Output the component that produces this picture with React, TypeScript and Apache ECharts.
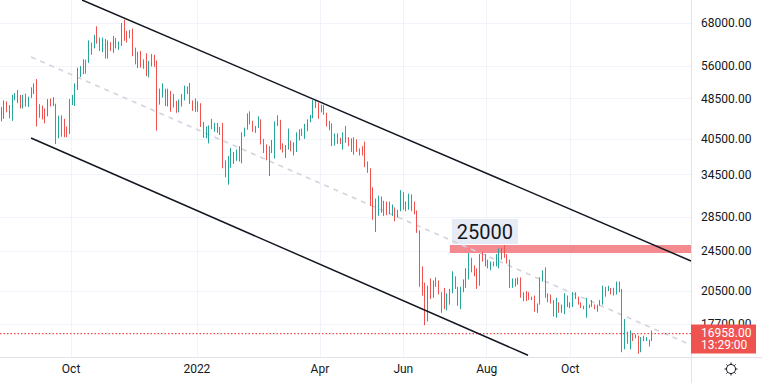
import React, { useEffect, useRef } from 'react';
import * as echarts from 'echarts';

const DAY = 86400000;
// 2-day candles, BTC/USD
const candleStart = Date.UTC(2021, 7, 9);
const candleStepDays = 2;

const opens = [
  43800,45600,44400,47100,46000,44800,49300,49300,47700,46900,
  48900,46900,48800,50000,51800,46800,46400,45200,44900,48200,
  47300,47300,40700,44900,42700,42200,41500,48100,48200,51500,
  53800,55000,57500,57400,61700,61500,64300,62200,61300,63200,
  58500,62300,61300,63200,61400,61500,67500,64900,64200,65500,
  60100,56900,59700,56300,57200,53600,57300,57000,56600,49200,
  50600,50600,47100,50100,48400,47700,46900,46900,48600,50400,
  50600,47500,47100,47700,46500,43500,41600,42000,42800,42600,
  43200,42300,41700,36500,36300,36900,37100,37900,38500,36900,
  41600,42400,44100,43600,42200,42600,43900,40000,38400,38300,
  38300,39100,43200,44000,39100,38400,38700,39400,38800,39700,
  41100,41800,41300,42400,44000,44500,47100,47100,46300,46400,
  45500,43400,42800,39500,41100,40500,39700,41500,40500,39500,
  40400,39200,38600,38500,37700,36500,35500,30100,29000,29300,
  31300,30400,30300,29400,29100,29500,28600,29400,31800,30400,
  29800,31400,30200,29100,26600,22100,20400,19000,20600,20000,
  21200,21000,20300,19800,19300,20200,20500,21600,20800,19300,
  20600,21200,22400,23200,22700,22600,21000,23800,23600,23300,
  22800,23300,23200,23200,24000,24400,24100,23300,20800,21500,
  21500,21600,20000,20300,20000,19900,20000,18800,19300,21700,
  22400,20200,19800,19400,18900,19400,18900,19200,19400,19400,
  19100,20300,19900,19400,19100,19200,19200,19300,19300,19000,
  19200,19300,20800,20600,20600,20500,20200,21300,20600,15900,
  17100,16300,16900,16700,16700,15800,16600,16500,16500,16400,
];
const highs = [
  46700,46700,48100,47900,47100,49300,49700,50400,49300,49300,
  49600,48900,51000,51900,52900,47300,47000,46400,48400,48500,
  48800,47400,44900,45000,44300,42800,48400,49300,51900,55700,
  56100,57800,57700,62900,62300,64500,67000,63700,63700,63300,
  62900,62400,64200,63600,62600,68000,69000,65600,65900,66300,
  60900,59800,60000,57800,59400,57400,59200,59000,57500,50700,
  51900,50700,50700,50200,49500,48000,48300,49500,51400,51200,
  52000,48100,48500,47900,47500,43700,42800,43000,44300,43500,
  43500,42700,43500,36800,37500,38900,38200,38600,39200,41700,
  42600,45400,45800,43900,42900,44800,44200,40500,39500,39200,
  40300,43800,45000,44100,39700,39400,42400,40200,39900,41700,
  42300,42400,43300,44200,45100,48200,48100,47600,47200,47100,
  45500,43900,43400,41500,41500,40700,41700,42900,40800,40600,
  40800,40400,38800,39200,40000,36600,35500,32600,31000,31400,
  31300,30700,30600,30600,30200,29800,29500,32200,31900,30600,
  31700,31600,30600,29400,26900,22900,21300,21000,21700,21500,
  21800,21500,20400,20800,20300,20700,22400,21900,20900,20900,
  21600,22700,24300,23800,23000,22700,24200,24400,24200,23600,
  23400,23400,24200,24800,24900,25200,24200,23600,21700,21700,
  21800,21800,20400,20500,20400,20000,20100,19400,21800,22500,
  22800,20300,20200,19700,19900,19500,19300,20300,20100,19500,
  20400,20400,20000,19500,19200,19900,19300,19700,19300,19300,
  19700,21000,20900,21000,20800,20800,21400,21400,20700,18100,
  17100,17200,17000,16900,16800,16700,16800,16700,16500,17200,
];
const lows = [
  43100,43800,44300,45600,44400,43900,48100,47500,46400,46400,
  46800,46700,48600,49500,42800,44500,44200,43400,44800,46800,
  46900,39600,40600,40900,40800,40800,41400,47100,46900,50400,
  53400,54100,54200,56900,59000,60700,62000,60000,59700,58000,
  58000,60000,59500,60700,60300,61400,62800,62300,63500,58600,
  56500,55600,55700,55400,53600,53300,56000,55900,42000,47200,
  48700,46900,46800,45700,46600,45500,45600,46800,48100,49500,
  47300,45900,45700,45700,42700,40700,40600,39700,42300,41800,
  41600,41200,35500,34100,33000,35600,36200,36700,36600,36300,
  40900,42200,43200,41800,41600,42500,39500,38000,36800,34300,
  38000,37100,42900,38600,38100,37200,38600,38300,37600,38200,
  40200,41000,40500,41900,43600,44400,46500,44300,45600,45100,
  42800,42100,39200,39300,39600,39600,38600,39800,39200,38200,
  37700,38200,37600,37600,35700,34800,30000,28200,26700,28700,
  29100,28700,28800,28900,28700,28000,28500,29300,29500,29300,
  29500,29300,28900,26600,20900,20100,17600,17900,19800,19900,
  20900,20200,18600,18900,18800,19300,20300,20700,19200,18900,
  20400,20800,21600,22300,21900,20700,21000,23400,22900,22700,
  22500,22900,22900,22700,23600,23800,23200,20800,20800,20900,
  21100,19900,19600,19600,19700,19700,18700,18600,19300,21400,
  19900,19500,19400,18300,18200,18600,18600,18500,19100,19000,
  19100,19800,19300,19000,18900,18200,19000,19100,18900,18700,
  19200,19300,20000,20500,20200,20100,20200,20400,15600,15800,
  16200,15800,16400,16600,15500,15600,16400,16400,16000,16400,
];
const closes = [
  45600,44400,47100,46000,44800,49300,49300,47700,46900,48900,
  46900,48800,50000,51800,46800,46400,45200,44900,48200,47300,
  47300,40700,44900,42700,42200,41500,48100,48200,51500,53800,
  55000,57500,57400,61700,61500,64300,62200,61300,63200,58500,
  62300,61300,63200,61400,61500,67500,64900,64200,65500,60100,
  56900,59700,56300,57200,53600,57300,57000,56600,49200,50600,
  50600,47100,50100,48400,47700,46900,46900,48600,50400,50600,
  47500,47100,47700,46500,43500,41600,42000,42800,42600,43200,
  42300,41700,36500,36300,36900,37100,37900,38500,36900,41600,
  42400,44100,43600,42200,42600,43900,40000,38400,38300,38300,
  39100,43200,44000,39100,38400,38700,39400,38800,39700,41100,
  41800,41300,42400,44000,44500,47100,47100,46300,46400,45500,
  43400,42800,39500,41100,40500,39700,41500,40500,39500,40400,
  39200,38600,38500,37700,36500,35500,30100,29000,29300,31300,
  30400,30300,29400,29100,29500,28600,29400,31800,30400,29800,
  31400,30200,29100,26600,22100,20400,19000,20600,20000,21200,
  21000,20300,19800,19300,20200,20500,21600,20800,19300,20600,
  21200,22400,23200,22700,22600,21000,23800,23600,23300,22800,
  23300,23200,23200,24000,24400,24100,23300,20800,21500,21500,
  21600,20000,20300,20000,19900,20000,18800,19300,21700,22400,
  20200,19800,19400,18900,19400,18900,19200,19400,19400,19100,
  20300,19900,19400,19100,19200,19200,19300,19300,19000,19200,
  19300,20800,20600,20600,20500,20200,21300,20600,15900,17100,
  16300,16900,16700,16700,15800,16600,16500,16500,16400,16958,
];

const priceTicks = [68000, 56000, 48500, 40500, 34500, 28500, 24500, 20500, 17700];
const timeTicks = [
  Date.UTC(2021, 9, 1), Date.UTC(2022, 0, 1), Date.UTC(2022, 3, 1),
  Date.UTC(2022, 5, 1), Date.UTC(2022, 7, 1), Date.UTC(2022, 9, 1),
];
const timeTickLabels = ['Oct', '2022', 'Apr', 'Jun', 'Aug', 'Oct'];

const xMin = Date.UTC(2021, 7, 10);
const xMax = Date.UTC(2022, 11, 28, 10);
const priceMin = 15270;
const priceMax = 75360;

const lastPrice = 16958;
const countdown = '13:29:00';

const upperChannel = [[Date.UTC(2021, 9, 9), 75360], [Date.UTC(2022, 11, 28, 10), 23460]];
const lowerChannel = [[Date.UTC(2021, 8, 1, 17), 40660], [Date.UTC(2022, 7, 31, 5), 15390]];
const midChannel = [[Date.UTC(2021, 8, 1, 17), 58410], [Date.UTC(2022, 11, 28, 10), 16110]];

const zoneStart = Date.UTC(2022, 6, 5);
const zoneTop = 25200;
const zoneBottom = 24300;
const zoneLabel = '25000';

const FONT = 'Roboto, "Noto Sans", sans-serif';
const TEXT = '#131722';
const GRID = '#f0f3fa';
const EDGE = '#e0e3eb';
const UP = '#26a69a';
const DOWN = '#ef5350';

export default function App() {
  const ref = useRef<HTMLDivElement>(null);
  useEffect(() => {
    document.body.style.margin = '0';
    const chart = echarts.init(ref.current!, null, { renderer: 'svg' });
    const ln = Math.log;
    const candleData = closes.map((c, i) => [
      candleStart + i * candleStepDays * DAY,
      ln(opens[i]), ln(c), ln(lows[i]), ln(highs[i]),
    ]);
    const toLn = (pts: number[][]) => pts.map(([t, p]) => [t, ln(p)]);
    const tickLn = priceTicks.map((p) => ln(p));

    chart.setOption({
      animation: false,
      backgroundColor: '#ffffff',
      textStyle: { fontFamily: FONT },
      grid: { left: 0, right: 71, top: 0, bottom: 26, containLabel: false },
      xAxis: {
        type: 'value',
        min: xMin,
        max: xMax,
        axisLine: { show: false },
        axisTick: { show: false, customValues: timeTicks },
        axisLabel: {
          customValues: timeTicks,
          formatter: (v: number) => {
            let best = 0;
            timeTicks.forEach((t, i) => { if (Math.abs(t - v) < Math.abs(timeTicks[best] - v)) best = i; });
            return timeTickLabels[best];
          },
          color: TEXT,
          fontSize: 12,
          fontFamily: FONT,
          margin: 6,
        },
        splitLine: { show: true, lineStyle: { color: GRID, width: 1 } },
      },
      yAxis: {
        type: 'value',
        position: 'right',
        min: ln(priceMin),
        max: ln(priceMax),
        axisLine: { show: false },
        axisTick: { show: false, customValues: tickLn },
        axisLabel: {
          customValues: tickLn,
          formatter: (v: number) => Math.round(Math.exp(v)).toFixed(2),
          color: TEXT,
          fontSize: 12,
          fontFamily: FONT,
          margin: 10,
        },
        splitLine: { show: true, lineStyle: { color: GRID, width: 1 } },
      },
      series: [
        {
          name: 'mid',
          type: 'line',
          z: 1,
          data: toLn(midChannel),
          symbol: 'none',
          lineStyle: { color: '#d1d4dc', width: 1.5, type: [5, 5] },
          markArea: {
            silent: true,
            itemStyle: { color: '#f28a90' },
            label: {
              show: true,
              position: [2, -26],
              formatter: zoneLabel,
              color: TEXT,
              fontSize: 20,
              fontFamily: FONT,
              lineHeight: 20,
              backgroundColor: '#e6ebf5',
              padding: [3, 5, 2, 5],
            },
            data: [[
              { coord: [zoneStart, ln(zoneTop)] },
              { coord: [xMax, ln(zoneBottom)] },
            ]],
          },
        },
        {
          name: 'BTC',
          type: 'candlestick',
          z: 2,
          barWidth: 1,
          data: candleData,
          itemStyle: {
            color: UP, color0: DOWN, borderColor: UP, borderColor0: DOWN,
            borderColorDoji: UP, borderWidth: 1,
          },
        },
        {
          name: 'lastPrice',
          type: 'line',
          z: 2,
          data: [[xMin, ln(lastPrice)], [xMax, ln(lastPrice)]],
          symbol: 'none',
          lineStyle: { color: '#f0484a', type: [1.5, 2], width: 1.3 },
        },
        {
          name: 'upper',
          type: 'line',
          z: 3,
          data: toLn(upperChannel),
          symbol: 'none',
          lineStyle: { color: '#131722', width: 1.5 },
        },
        {
          name: 'lower',
          type: 'line',
          z: 3,
          data: toLn(lowerChannel),
          symbol: 'none',
          lineStyle: { color: '#131722', width: 1.5 },
        },
      ],
    });

    const py = chart.convertToPixel({ yAxisIndex: 0 }, ln(lastPrice)) as number;
    const px = chart.convertToPixel({ xAxisIndex: 0 }, xMax) as number;
    const rays = [0, 1, 2, 3, 4, 5, 6, 7].map((k) => {
      const a = (k * Math.PI) / 4;
      return {
        type: 'line',
        shape: { x1: 731 + Math.cos(a) * 4.5, y1: 369 + Math.sin(a) * 4.5, x2: 731 + Math.cos(a) * 6.5, y2: 369 + Math.sin(a) * 6.5 },
        style: { stroke: TEXT, lineWidth: 1 },
      };
    });
    chart.setOption({
      graphic: [
        { type: 'line', z: 50, shape: { x1: px + 0.5, y1: 0, x2: px + 0.5, y2: 383 }, style: { stroke: EDGE, lineWidth: 1 } },
        { type: 'line', z: 50, shape: { x1: 0, y1: 357.5, x2: 762, y2: 357.5 }, style: { stroke: EDGE, lineWidth: 1 } },
        { type: 'rect', z: 100, shape: { x: px, y: py - 9, width: 65, height: 29 }, style: { fill: DOWN } },
        { type: 'text', z: 101, x: px + 10, y: py - 1, style: { text: lastPrice.toFixed(2), fill: '#ffffff', font: `12px ${FONT}`, verticalAlign: 'middle', align: 'left' } },
        { type: 'text', z: 101, x: px + 10, y: py + 11, style: { text: countdown, fill: '#ffffff', font: `12px ${FONT}`, verticalAlign: 'middle', align: 'left' } },
        { type: 'group', z: 100, children: [
          { type: 'circle', shape: { cx: 731, cy: 369, r: 4.5 }, style: { fill: 'none', stroke: TEXT, lineWidth: 1 } },
          ...rays,
        ] },
      ],
    });

    return () => chart.dispose();
  }, []);
  return <div ref={ref} style={{ position: 'fixed', left: 0, top: 0, width: 762, height: 383, background: '#fff' }} />;
}
